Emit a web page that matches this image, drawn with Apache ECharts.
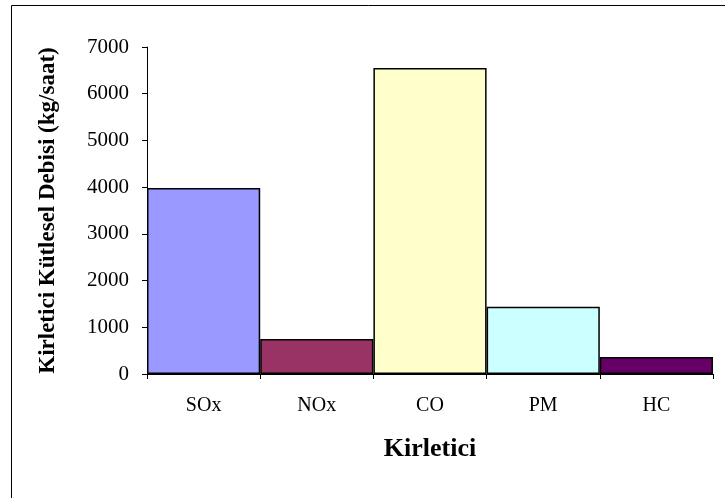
<!DOCTYPE html>
<html>
<head>
<meta charset="utf-8">
<script src="https://cdn.jsdelivr.net/npm/echarts@6/dist/echarts.min.js"></script>
<style>
html,body{margin:0;padding:0;background:#fff;}
#c{width:725px;height:498px;}
</style>
</head>
<body>
<div id="c"></div>
<script>
const categories = ['SOx', 'NOx', 'CO', 'PM', 'HC'];
const values = [3980, 750, 6550, 1440, 365];
const barColors = ['#9999FF', '#993366', '#FFFFCC', '#CCFFFF', '#660066'];
const yTicks = [0, 1000, 2000, 3000, 4000, 5000, 6000, 7000];
const yTitle = 'Kirletici Kütlesel Debisi (kg/saat)';
const xTitle = 'Kirletici';

const font = '"Liberation Serif", "Times New Roman", serif';
const chart = echarts.init(document.getElementById('c'), null, {renderer: 'canvas'});
chart.setOption({
  animation: false,
  backgroundColor: '#fff',
  graphic: [{
    type: 'rect', silent: true, z: -1,
    shape: {x: 11.5, y: 5.5, width: 760, height: 520},
    style: {fill: 'none', stroke: '#000', lineWidth: 1}
  }],
  grid: {left: 147, right: 12, top: 47, bottom: 124, containLabel: false},
  xAxis: {
    type: 'category',
    data: categories,
    name: xTitle,
    nameLocation: 'middle',
    nameGap: 62,
    nameTextStyle: {fontFamily: font, fontSize: 26, fontWeight: 'bold', color: '#000'},
    axisLine: {lineStyle: {color: '#000', width: 1}},
    axisTick: {show: true, alignWithLabel: false, length: 5, lineStyle: {color: '#000'}},
    axisLabel: {fontFamily: font, fontSize: 20, color: '#000', margin: 22}
  },
  yAxis: {
    type: 'value',
    min: yTicks[0],
    max: yTicks[yTicks.length - 1],
    interval: 1000,
    name: yTitle,
    nameLocation: 'middle',
    nameGap: 87,
    nameRotate: 90,
    nameTextStyle: {fontFamily: font, fontSize: 23, fontWeight: 'bold', color: '#000'},
    axisLine: {show: true, lineStyle: {color: '#000', width: 1}},
    axisTick: {show: true, inside: false, length: 5, lineStyle: {color: '#000'}},
    splitLine: {show: false},
    axisLabel: {fontFamily: font, fontSize: 21, color: '#000', margin: 18, formatter: v => String(v)}
  },
  series: [{
    type: 'bar',
    barCategoryGap: 0,
    data: values.map((v, i) => ({
      value: v,
      itemStyle: {color: barColors[i], borderColor: '#000', borderWidth: 1.5}
    }))
  }]
});
</script>
</body>
</html>
